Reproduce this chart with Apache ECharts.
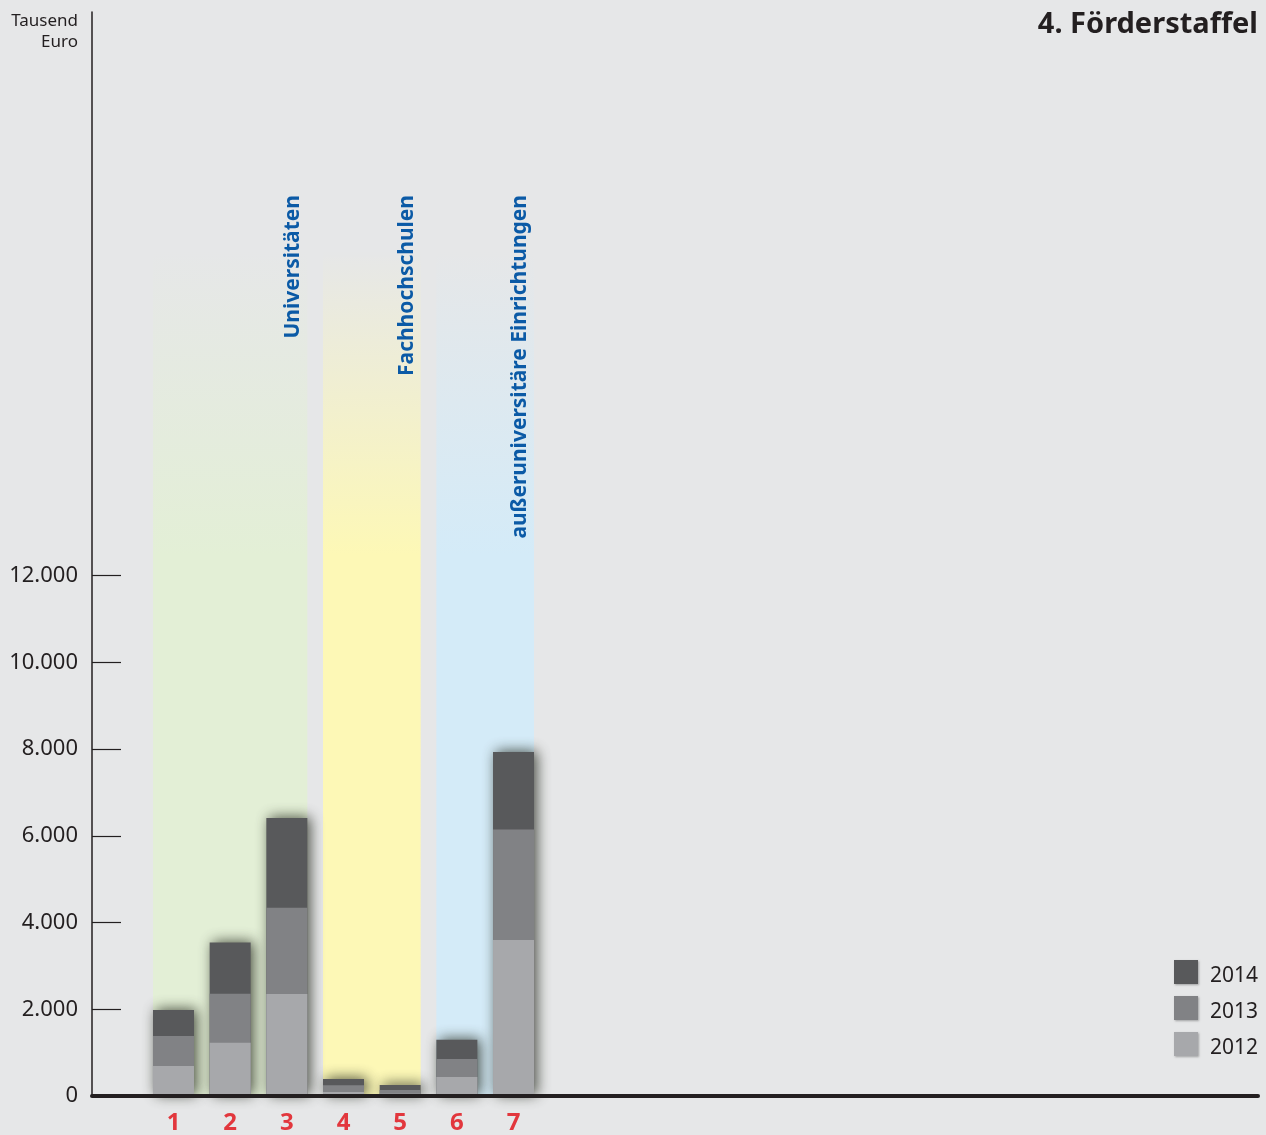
<!DOCTYPE html>
<html>
<head>
<meta charset="utf-8">
<script src="https://cdn.jsdelivr.net/npm/echarts@6/dist/echarts.min.js"></script>
<style>
html,body{margin:0;padding:0;background:#e6e7e8;}
#chart{width:1266px;height:1135px;}
</style>
</head>
<body>
<div id="chart"></div>
<script>
// ---- data ----
const categories = [1, 2, 3, 4, 5, 6, 7];
const years = ['2012', '2013', '2014'];
const v2012 = [690, 1230, 2350, 90, 50, 440, 3600];
const v2013 = [695, 1130, 1990, 160, 90, 415, 2545];
const v2014 = [600, 1180, 2070, 140, 115, 440, 1790];
const yTickValues = [0, 2000, 4000, 6000, 8000, 10000, 12000];
const groupNames = ['Universitäten', 'Fachhochschulen', 'außeruniversitäre Einrichtungen'];
const groupStart = [1, 4, 6];
const groupEnd = [3, 5, 7];
const groupTop = 19500;
const yUnit = ['Tausend', 'Euro'];
const titleText = '4. Förderstaffel';

// ---- styles ----
const FONT = '"Noto Sans", Lato, sans-serif';
const INK = '#231f20';
const yearColors = {'2012': '#a7a8ab', '2013': '#818285', '2014': '#58595b'};
const bandColors = ['rgba(227,239,214,', 'rgba(253,248,182,', 'rgba(212,235,248,'];
const grid = {left: 92, right: 8, top: 12, bottom: 39};
const xMin = -0.438, xMax = 20.137;
const barW = 41;
const pxPerUnit = (1266 - grid.left - grid.right) / (xMax - xMin);
const halfBar = (barW / 2) / pxPerUnit;

const fmt = v => String(v).replace(/\B(?=(\d{3})+(?!\d))/g, '.');

// stacked tops (cumulative), drawn as overlapping bars from top segment down
const valuesByYear = {'2012': v2012, '2013': v2013, '2014': v2014};
const cumulative = {};
let running = categories.map(() => 0);
years.forEach(y => {
  running = running.map((r, i) => r + valuesByYear[y][i]);
  cumulative[y] = running.slice();
});

const bands = groupStart.map((s, i) => [
  {xAxis: s - halfBar, yAxis: 0, itemStyle: {color: {
    type: 'linear', x: 0, y: 0, x2: 0, y2: 1,
    colorStops: [
      {offset: 0, color: bandColors[i] + '0)'},
      {offset: 0.36, color: bandColors[i] + '1)'},
      {offset: 1, color: bandColors[i] + '1)'}
    ]}}},
  {xAxis: groupEnd[i] + halfBar, yAxis: groupTop}
]);

const series = [
  {
    name: 'bands', type: 'line', data: [], z: 1, silent: true,
    markArea: {silent: true, data: bands}
  }
].concat(years.slice().reverse().map((y, k) => ({
  name: y, type: 'bar', z: 3 + k, barWidth: barW, barGap: '-100%',
  data: categories.map((c, i) => [c, cumulative[y][i]]),
  itemStyle: k === 0
    ? {color: yearColors[y], shadowBlur: 14, shadowColor: 'rgba(35,40,28,0.8)', shadowOffsetX: 3, shadowOffsetY: -1}
    : {color: yearColors[y]}
})));

const chart = echarts.init(document.getElementById('chart'));
chart.setOption({
  backgroundColor: '#e6e7e8',
  animation: false,
  textStyle: {fontFamily: FONT},
  grid: grid,
  title: {
    text: titleText, right: 3, top: 5,
    textStyle: {fontFamily: FONT, fontSize: 29, fontWeight: 'bold', color: INK}
  },
  legend: {
    data: ['2014', '2013', '2012'],
    orient: 'vertical', left: 1169, top: 955,
    itemWidth: 24, itemHeight: 24, itemGap: 9,
    icon: 'rect',
    itemStyle: {shadowBlur: 2, shadowColor: 'rgba(0,0,0,0.3)', shadowOffsetX: 1, shadowOffsetY: 1},
    formatter: name => '{t|' + name + '}',
    textStyle: {
      fontFamily: FONT, fontSize: 21, color: INK,
      rich: {t: {fontFamily: FONT, fontSize: 21, color: INK, padding: [9, 0, 0, 7]}}
    }
  },
  xAxis: {
    type: 'value', min: xMin, max: xMax, z: 8,
    axisLine: {show: true, onZero: false, lineStyle: {color: INK, width: 4}},
    axisTick: {show: false},
    splitLine: {show: false},
    axisLabel: {
      customValues: categories, margin: 15,
      color: '#e2373d', fontFamily: FONT, fontSize: 24, fontWeight: 'bold'
    }
  },
  yAxis: {
    type: 'value', min: 0, max: 25000,
    axisLine: {show: true, onZero: false, lineStyle: {color: INK, width: 1.5}},
    axisTick: {show: true, inside: true, length: 29, customValues: yTickValues, lineStyle: {color: INK, width: 1.2}},
    splitLine: {show: false},
    axisLabel: {
      customValues: yTickValues, margin: 14, formatter: v => fmt(v),
      color: INK, fontFamily: FONT, fontSize: 22
    }
  },
  series: series
});

// annotations: unit label and rotated group names (x from axis scale)
const graphics = [{
  type: 'text', x: 78, y: 11, z: 100,
  style: {text: yUnit.join('\n'), fill: INK, font: '17px ' + FONT, textAlign: 'right', textVerticalAlign: 'top', lineHeight: 21}
}];
groupEnd.forEach((e, i) => {
  const px = chart.convertToPixel({xAxisIndex: 0}, e) + barW / 2 - 14;
  graphics.push({
    type: 'text', x: px, y: 195, rotation: Math.PI / 2, z: 100,
    style: {text: groupNames[i], fill: '#0b5aa6', font: 'bold 21px ' + FONT, textAlign: 'right', textVerticalAlign: 'middle'}
  });
});
chart.setOption({graphic: graphics});
</script>
</body>
</html>
